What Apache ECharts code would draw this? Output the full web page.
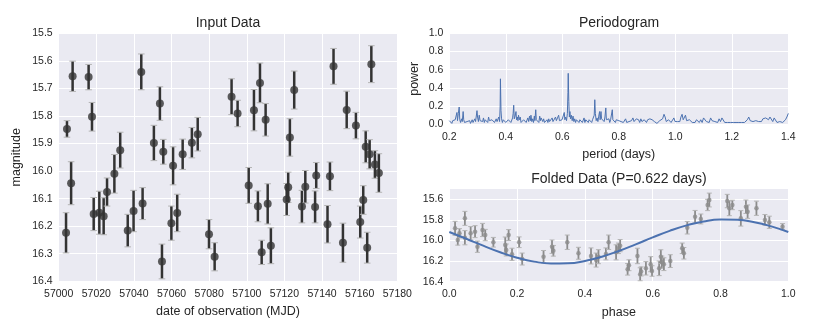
<!DOCTYPE html>
<html>
<head>
<meta charset="utf-8">
<script src="https://cdn.jsdelivr.net/npm/echarts@6/dist/echarts.min.js"></script>
<style>
  html, body { margin: 0; padding: 0; background: #fff; }
  #main { width: 830px; height: 332px; }
</style>
</head>
<body>
<div id="main"></div>
<script>
// input data: date (MJD), magnitude, error
var times = [57003.9, 57004.4, 57006.6, 57007.4, 57015.9, 57017.7, 57018.6, 57021.6, 57023.9, 57025.7,
  57029.6, 57032.7, 57036.7, 57039.8, 57043.9, 57044.6, 57050.6, 57053.8, 57055.6, 57054.9,
  57060.8, 57059.9, 57063.0, 57065.9, 57070.8, 57073.9, 57079.9, 57082.9, 57091.9, 57095.1,
  57101.0, 57103.8, 57105.9, 57107.0, 57107.9, 57110.0, 57111.1, 57112.8, 57121.2, 57122.0,
  57122.9, 57125.2, 57129.3, 57131.1, 57136.3, 57136.9, 57142.9, 57144.2, 57146.1, 57151.1,
  57153.1, 57158.0, 57160.3, 57161.9, 57163.2, 57164.0, 57165.3, 57166.2, 57168.1, 57170.2];
var mags = [16.224, 15.847, 16.044, 15.656, 15.659, 15.803, 16.156, 16.151, 16.164, 16.076,
  16.01, 15.924, 16.216, 16.145, 15.64, 16.118, 15.898, 15.755, 15.93, 16.328,
  15.981, 16.189, 16.152, 15.939, 15.897, 15.866, 16.229, 16.311, 15.73, 15.791,
  16.052, 15.779, 16.128, 15.68, 16.295, 15.814, 16.119, 16.271, 16.103, 16.059,
  15.878, 15.706, 16.129, 16.057, 16.13, 16.016, 16.193, 16.019, 15.62, 16.26,
  15.778, 15.835, 16.185, 16.105, 15.912, 16.278, 15.939, 15.612, 15.976, 16.007];
var errs = [0.073, 0.03, 0.078, 0.055, 0.046, 0.052, 0.06, 0.078, 0.067, 0.051,
  0.07, 0.065, 0.059, 0.075, 0.065, 0.058, 0.064, 0.061, 0.045, 0.063,
  0.069, 0.062, 0.068, 0.055, 0.055, 0.061, 0.053, 0.051, 0.065, 0.048,
  0.065, 0.075, 0.056, 0.072, 0.044, 0.059, 0.073, 0.065, 0.058, 0.055,
  0.068, 0.069, 0.059, 0.059, 0.058, 0.047, 0.068, 0.052, 0.065, 0.071,
  0.068, 0.048, 0.058, 0.052, 0.058, 0.056, 0.053, 0.067, 0.05, 0.07];

// periodogram: [period (days), power]
var periodogram = [
  [0.200,0.04],[0.203,0.02],[0.206,0.05],[0.209,0.01],[0.212,0.04],[0.215,0.06],[0.218,0.02],[0.221,0.05],[0.224,0.03],[0.227,0.13],
  [0.229,0.04],[0.232,0.12],[0.235,0.19],[0.237,0.05],[0.240,0.02],[0.243,0.06],[0.246,0.03],[0.249,0.14],[0.251,0.05],[0.254,0.02],
  [0.257,0.04],[0.260,0.01],[0.263,0.03],[0.266,0.05],[0.269,0.02],[0.272,0.04],[0.275,0.01],[0.278,0.03],[0.281,0.05],[0.284,0.02],
  [0.287,0.03],[0.290,0.06],[0.293,0.03],[0.296,0.05],[0.298,0.15],[0.300,0.08],[0.303,0.03],[0.306,0.10],[0.309,0.04],[0.312,0.02],
  [0.315,0.05],[0.318,0.03],[0.321,0.07],[0.324,0.02],[0.327,0.05],[0.330,0.03],[0.333,0.06],[0.336,0.02],[0.339,0.08],[0.342,0.04],
  [0.345,0.06],[0.348,0.02],[0.351,0.05],[0.354,0.03],[0.357,0.07],[0.360,0.02],[0.363,0.04],[0.366,0.06],[0.369,0.03],[0.372,0.05],
  [0.375,0.08],[0.378,0.03],[0.380,0.20],[0.381,0.50],[0.383,0.15],[0.385,0.06],[0.388,0.02],[0.391,0.05],[0.394,0.03],[0.397,0.06],
  [0.400,0.02],[0.403,0.04],[0.406,0.02],[0.409,0.05],[0.412,0.03],[0.415,0.06],[0.418,0.02],[0.421,0.04],[0.424,0.07],[0.426,0.12],
  [0.428,0.21],[0.430,0.06],[0.433,0.09],[0.436,0.14],[0.438,0.05],[0.441,0.08],[0.443,0.04],[0.445,0.10],[0.448,0.05],[0.451,0.08],
  [0.454,0.02],[0.457,0.04],[0.460,0.02],[0.463,0.05],[0.466,0.03],[0.469,0.06],[0.472,0.02],[0.475,0.04],[0.478,0.07],[0.481,0.03],
  [0.484,0.09],[0.487,0.04],[0.489,0.10],[0.492,0.03],[0.495,0.06],[0.498,0.02],[0.501,0.09],[0.503,0.04],[0.506,0.16],[0.508,0.05],
  [0.511,0.03],[0.514,0.06],[0.517,0.02],[0.520,0.09],[0.523,0.04],[0.525,0.07],[0.528,0.08],[0.531,0.03],[0.534,0.06],[0.537,0.02],
  [0.540,0.04],[0.543,0.01],[0.546,0.05],[0.549,0.02],[0.552,0.06],[0.555,0.03],[0.558,0.05],[0.561,0.02],[0.564,0.07],[0.567,0.03],
  [0.570,0.05],[0.573,0.02],[0.576,0.08],[0.579,0.04],[0.582,0.06],[0.585,0.03],[0.587,0.10],[0.590,0.04],[0.593,0.06],[0.596,0.02],
  [0.599,0.05],[0.602,0.03],[0.605,0.07],[0.607,0.13],[0.609,0.05],[0.612,0.08],[0.615,0.04],[0.618,0.12],[0.620,0.35],[0.621,0.56],
  [0.623,0.25],[0.625,0.08],[0.627,0.14],[0.629,0.06],[0.632,0.10],[0.635,0.04],[0.638,0.09],[0.641,0.03],[0.644,0.06],[0.647,0.02],
  [0.650,0.05],[0.653,0.03],[0.656,0.07],[0.659,0.02],[0.662,0.05],[0.665,0.03],[0.668,0.06],[0.671,0.02],[0.674,0.04],[0.677,0.07],
  [0.680,0.02],[0.683,0.05],[0.686,0.03],[0.689,0.06],[0.692,0.02],[0.695,0.05],[0.698,0.03],[0.701,0.07],[0.704,0.02],[0.707,0.05],
  [0.710,0.03],[0.713,0.10],[0.715,0.27],[0.717,0.12],[0.720,0.04],[0.723,0.07],[0.726,0.03],[0.729,0.09],[0.732,0.14],[0.734,0.05],
  [0.737,0.14],[0.739,0.06],[0.742,0.04],[0.745,0.07],[0.748,0.03],[0.751,0.08],[0.754,0.18],[0.756,0.05],[0.759,0.07],[0.762,0.03],
  [0.765,0.06],[0.768,0.02],[0.771,0.05],[0.774,0.04],[0.777,0.16],[0.779,0.05],[0.782,0.03],[0.785,0.06],[0.788,0.02],[0.791,0.05],
  [0.794,0.03],[0.797,0.06],[0.800,0.04],[0.804,0.06],[0.808,0.03],[0.812,0.05],[0.816,0.02],[0.820,0.04],[0.824,0.06],[0.828,0.02],
  [0.832,0.01],[0.836,0.03],[0.840,0.02],[0.845,0.04],[0.850,0.07],[0.854,0.03],[0.858,0.02],[0.862,0.06],[0.866,0.04],[0.870,0.05],
  [0.874,0.02],[0.878,0.06],[0.882,0.03],[0.886,0.02],[0.890,0.05],[0.894,0.06],[0.898,0.02],[0.902,0.05],[0.906,0.07],[0.910,0.06],
  [0.914,0.08],[0.918,0.05],[0.922,0.06],[0.926,0.03],[0.930,0.02],[0.935,0.01],[0.940,0.03],[0.945,0.04],[0.950,0.03],[0.955,0.06],
  [0.960,0.11],[0.964,0.08],[0.968,0.03],[0.972,0.02],[0.976,0.05],[0.980,0.03],[0.985,0.02],[0.990,0.04],[0.995,0.07],[0.999,0.03],
  [1.004,0.02],[1.008,0.03],[1.012,0.05],[1.016,0.03],[1.020,0.08],[1.024,0.11],[1.028,0.05],[1.032,0.03],[1.036,0.10],[1.040,0.04],
  [1.045,0.02],[1.050,0.05],[1.055,0.03],[1.060,0.02],[1.065,0.04],[1.070,0.02],[1.075,0.05],[1.080,0.06],[1.085,0.02],[1.090,0.05],
  [1.095,0.02],[1.100,0.07],[1.105,0.09],[1.110,0.03],[1.115,0.05],[1.120,0.02],[1.125,0.07],[1.130,0.04],[1.135,0.02],[1.140,0.03],
  [1.145,0.05],[1.150,0.02],[1.155,0.06],[1.160,0.03],[1.165,0.07],[1.170,0.05],[1.175,0.02],[1.180,0.01],[1.185,0.02],[1.190,0.01],
  [1.195,0.02],[1.200,0.01],[1.205,0.02],[1.210,0.01],[1.215,0.02],[1.220,0.01],[1.225,0.02],[1.230,0.03],[1.235,0.02],[1.240,0.04],
  [1.245,0.02],[1.250,0.03],[1.255,0.05],[1.260,0.08],[1.265,0.04],[1.270,0.02],[1.275,0.03],[1.280,0.02],[1.285,0.04],[1.290,0.05],
  [1.295,0.03],[1.300,0.05],[1.305,0.03],[1.310,0.06],[1.315,0.04],[1.320,0.07],[1.325,0.08],[1.330,0.05],[1.335,0.08],[1.340,0.06],
  [1.345,0.03],[1.350,0.07],[1.355,0.05],[1.360,0.02],[1.365,0.04],[1.370,0.03],[1.375,0.01],[1.380,0.02],[1.385,0.03],[1.390,0.05],
  [1.395,0.08],[1.400,0.12]
];

// folded data: phase, magnitude, error
var phases = [0.017, 0.025, 0.030, 0.046, 0.046, 0.063, 0.076, 0.083, 0.098, 0.106,
  0.130, 0.165, 0.168, 0.175, 0.185, 0.206, 0.215, 0.278, 0.303, 0.307,
  0.348, 0.381, 0.418, 0.433, 0.440, 0.462, 0.470, 0.492, 0.499, 0.504,
  0.526, 0.530, 0.555, 0.563, 0.566, 0.580, 0.594, 0.598, 0.619, 0.624,
  0.627, 0.633, 0.652, 0.687, 0.692, 0.702, 0.725, 0.742, 0.762, 0.767,
  0.820, 0.826, 0.835, 0.860, 0.875, 0.880, 0.906, 0.931, 0.944, 0.983];
var foldMags = [15.882, 15.995, 15.93, 15.785, 15.973, 15.93, 15.914, 16.06, 15.898, 15.947,
  16.017, 16.044, 16.092, 15.947, 16.134, 16.017, 16.18, 16.157, 16.06, 16.10,
  16.017, 16.124, 16.15, 16.19, 16.157, 16.13, 16.017, 16.115, 16.076, 16.05,
  16.28, 16.24, 16.15, 16.328, 16.30, 16.27, 16.23, 16.296, 16.27, 16.157,
  16.21, 16.23, 16.2, 16.076, 16.124, 15.876, 15.769, 15.791, 15.655, 15.607,
  15.617, 15.687, 15.655, 15.785, 15.672, 15.72, 15.687, 15.8, 15.823, 15.866];
var foldErrs = [0.068, 0.05, 0.045, 0.068, 0.069, 0.065, 0.058, 0.055, 0.064, 0.055,
  0.047, 0.078, 0.058, 0.053, 0.059, 0.052, 0.058, 0.06, 0.065, 0.052,
  0.07, 0.058, 0.078, 0.068, 0.068, 0.058, 0.07, 0.073, 0.051, 0.059,
  0.056, 0.053, 0.075, 0.063, 0.044, 0.065, 0.073, 0.051, 0.071, 0.067,
  0.059, 0.062, 0.062, 0.051, 0.056, 0.061, 0.061, 0.048, 0.055, 0.067,
  0.065, 0.072, 0.046, 0.075, 0.065, 0.065, 0.069, 0.052, 0.059, 0.03];

// fitted model on the folded panel
var fitPhase = [0.00, 0.05, 0.10, 0.15, 0.20, 0.25, 0.30, 0.35, 0.40, 0.45, 0.50,
  0.55, 0.60, 0.65, 0.70, 0.75, 0.80, 0.85, 0.90, 0.95, 1.00];
var fitMag = [15.918, 15.983, 16.050, 16.114, 16.167, 16.205, 16.223, 16.221, 16.198, 16.157, 16.102,
  16.037, 15.970, 15.906, 15.853, 15.815, 15.797, 15.799, 15.822, 15.863, 15.918];

var FONT = "'Liberation Sans', Arial, sans-serif";
var TXT = '#262626';
var BG = '#EAEAF2';

function errorBars(color, width, cap) {
  return function(params, api) {
    var x = api.value(0), y = api.value(1), e = api.value(2);
    var top = api.coord([x, y - e]);
    var bot = api.coord([x, y + e]);
    var capStyle = { stroke: '#b4b4b4', lineWidth: 1 };
    return {
      type: 'group',
      children: [
        { type: 'line', shape: { x1: top[0], y1: top[1], x2: bot[0], y2: bot[1] }, style: { stroke: color, lineWidth: width } },
        { type: 'line', shape: { x1: top[0] - cap, y1: top[1], x2: top[0] + cap, y2: top[1] }, style: capStyle },
        { type: 'line', shape: { x1: bot[0] - cap, y1: bot[1], x2: bot[0] + cap, y2: bot[1] }, style: capStyle }
      ]
    };
  };
}

function xAxis(idx, min, max, step, digits, name) {
  return {
    type: 'value', gridIndex: idx, min: min, max: max, interval: step,
    name: name, nameLocation: 'middle', nameGap: 24,
    nameTextStyle: { color: TXT, fontSize: 12.5, fontFamily: FONT },
    axisLine: { show: false }, axisTick: { show: false },
    axisLabel: { color: TXT, fontSize: 10.5, fontFamily: FONT, margin: 7,
      formatter: function(v) { return v.toFixed(digits); } },
    splitLine: { show: true, lineStyle: { color: '#fff', width: 1 } }
  };
}

function yAxis(idx, min, max, step, name, gap, inverse, everyOther) {
  return {
    type: 'value', gridIndex: idx, min: min, max: max, interval: step, inverse: inverse,
    name: name, nameLocation: 'middle', nameGap: gap,
    nameTextStyle: { color: TXT, fontSize: 12.5, fontFamily: FONT },
    axisLine: { show: false }, axisTick: { show: false },
    axisLabel: { color: TXT, fontSize: 10.5, fontFamily: FONT, margin: 6,
      formatter: function(v) {
        if (everyOther && Math.round(v * 10) % 2 !== 0) return '';
        return v.toFixed(1);
      } },
    splitLine: { show: true, lineStyle: { color: everyOther ? ['rgba(0,0,0,0)', '#fff'] : '#fff', width: 1 } }
  };
}

var chart = echarts.init(document.getElementById('main'));

var titleStyle = { color: TXT, fontSize: 14, fontWeight: 'normal', fontFamily: FONT };

var option = {
  animation: false,
  backgroundColor: '#fff',
  title: [
    { text: 'Input Data', left: 228, top: 16, textAlign: 'center', padding: 0, textStyle: titleStyle },
    { text: 'Periodogram', left: 619, top: 16, textAlign: 'center', padding: 0, textStyle: titleStyle },
    { text: 'Folded Data (P=0.622 days)', left: 619, top: 172, textAlign: 'center', padding: 0, textStyle: titleStyle }
  ],
  grid: [
    { left: 58.7, top: 33.3, width: 338.6, height: 248, show: true, backgroundColor: BG, borderWidth: 0 },
    { left: 449.3, top: 33.3, width: 339, height: 91, show: true, backgroundColor: BG, borderWidth: 0 },
    { left: 449.3, top: 189, width: 339, height: 92.7, show: true, backgroundColor: BG, borderWidth: 0 }
  ],
  xAxis: [
    xAxis(0, 57000, 57180, 20, 0, 'date of observation (MJD)'),
    xAxis(1, 0.2, 1.4, 0.2, 1, 'period (days)'),
    xAxis(2, 0, 1, 0.2, 1, 'phase')
  ],
  yAxis: [
    yAxis(0, 15.5, 16.4, 0.1, 'magnitude', 36, true, false),
    yAxis(1, 0, 1, 0.2, 'power', 28, false, false),
    yAxis(2, 15.5, 16.4, 0.1, '', 30, true, true)
  ],
  series: [
    {
      type: 'custom', xAxisIndex: 0, yAxisIndex: 0, clip: true,
      renderItem: errorBars('#333333', 2.5, 3.3),
      data: times.map(function(t, i) { return [t, mags[i], errs[i]]; }),
      z: 2
    },
    {
      type: 'scatter', xAxisIndex: 0, yAxisIndex: 0,
      symbol: 'circle', symbolSize: 8,
      itemStyle: { color: '#333333' },
      data: times.map(function(t, i) { return [t, mags[i]]; }),
      z: 3
    },
    {
      type: 'line', xAxisIndex: 1, yAxisIndex: 1,
      showSymbol: false, symbol: 'none',
      lineStyle: { color: '#4C72B0', width: 1 },
      data: periodogram,
      z: 3
    },
    {
      type: 'custom', xAxisIndex: 2, yAxisIndex: 2, clip: true,
      renderItem: errorBars('#8c8c8c', 1.8, 2.5),
      data: phases.map(function(p, i) { return [p, foldMags[i], foldErrs[i]]; }),
      z: 2
    },
    {
      type: 'scatter', xAxisIndex: 2, yAxisIndex: 2,
      symbol: 'circle', symbolSize: 4.5,
      itemStyle: { color: '#8c8c8c' },
      data: phases.map(function(p, i) { return [p, foldMags[i]]; }),
      z: 3
    },
    {
      type: 'line', xAxisIndex: 2, yAxisIndex: 2,
      smooth: true, showSymbol: false, symbol: 'none',
      lineStyle: { color: '#4C72B0', width: 2 },
      data: fitPhase.map(function(p, i) { return [p, fitMag[i]]; }),
      z: 4
    }
  ]
};

chart.setOption(option);
</script>
</body>
</html>
